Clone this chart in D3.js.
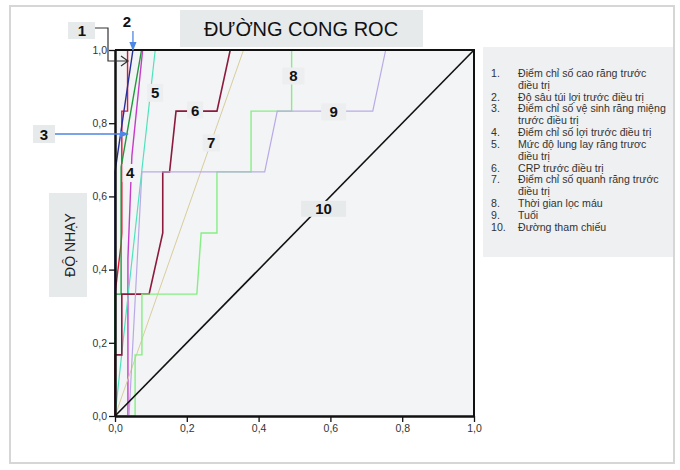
<!DOCTYPE html>
<html>
<head>
<meta charset="utf-8">
<script src="https://cdn.jsdelivr.net/npm/d3@7"></script>
<style>
  html, body { margin: 0; padding: 0; background: #ffffff; }
  svg { display: block; font-family: "Liberation Sans", Arial, sans-serif; }
</style>
</head>
<body>
<svg id="chart" width="680" height="470"></svg>
<script>
// ROC curves: each series is a list of [1 - specificity, sensitivity] points
const curve1 = [[0,0],[0,0.333],[0.017,0.47],[0.019,0.5],[0.019,0.833],[0.035,0.833],[0.035,1],[1,1]];
const curve2 = [[0,0],[0,0.667],[0.05,1],[1,1]];
const curve3 = [[0,0],[0,0.333],[0.017,0.333],[0.017,0.68],[0.074,1],[1,1]];
const curve4 = [[0,0],[0.036,0],[0.036,0.43],[0.047,0.71],[0.077,1],[1,1]];
const curve5 = [[0,0],[0.038,0.344],[0.078,0.7],[0.112,1],[1,1]];
const curve6 = [[0,0],[0,0.167],[0.019,0.167],[0.019,0.333],[0.095,0.333],[0.133,0.5],[0.133,0.667],[0.152,0.667],[0.17,0.833],[0.284,0.833],[0.321,1],[1,1]];
const curve7 = [[0,0],[0.358,1],[1,1]];
const curve8 = [[0,0],[0.056,0],[0.056,0.167],[0.075,0.167],[0.075,0.333],[0.228,0.333],[0.24,0.5],[0.284,0.5],[0.284,0.667],[0.379,0.667],[0.379,0.833],[0.492,0.833],[0.492,1],[1,1]];
const curve9 = [[0,0],[0.039,0],[0.075,0.667],[0.417,0.667],[0.452,0.833],[0.718,0.833],[0.754,1],[1,1]];
const curve10 = [[0,0],[1,1]];

const seriesList = [curve1, curve2, curve3, curve4, curve5, curve6, curve7, curve8, curve9, curve10];
const seriesColors = ["#e3143c", "#27309a", "#1f9a3c", "#c63cc8", "#4ee3bc", "#8c1a3c", "#d9cd9c", "#86ee84", "#b9a9e6", "#111111"];
const seriesWidths = [1.4, 1.4, 1.4, 1.4, 1.2, 1.6, 1.0, 1.4, 1.2, 1.6];

// Legend entries, already wrapped to fit the box
const legendItems = [
  ["Điểm chỉ số cao răng trước", "điều trị"],
  ["Độ sâu túi lợi trước điều trị"],
  ["Điểm chỉ số vệ sinh răng miệng", "trước điều trị"],
  ["Điểm chỉ số lợi trước điều trị"],
  ["Mức độ lung lay răng trươc", "điều trị"],
  ["CRP trước điều trị"],
  ["Điểm chỉ số quanh răng trước", "điều trị"],
  ["Thời gian lọc máu"],
  ["Tuổi"],
  ["Đường tham chiếu"]
];

const tickValues = [0, 0.2, 0.4, 0.6, 0.8, 1.0];
const titleText = "ĐƯỜNG CONG ROC";
const yLabelText = "ĐỘ NHẠY";

const svg = d3.select("#chart");

// page frame
svg.append("rect").attr("x", 10).attr("y", 6).attr("width", 664).attr("height", 457)
  .attr("fill", "#ffffff").attr("stroke", "#d6d6d6").attr("stroke-width", 2);

const plot = { left: 115, right: 474, top: 50, bottom: 416 };
const x = d3.scaleLinear().domain([0, 1]).range([plot.left, plot.right]);
const y = d3.scaleLinear().domain([0, 1]).range([plot.bottom, plot.top]);

// plot background
svg.append("rect").attr("x", plot.left).attr("y", plot.top)
  .attr("width", plot.right - plot.left).attr("height", plot.bottom - plot.top)
  .attr("fill", "#f3f4f5");

// title
svg.append("rect").attr("x", 180).attr("y", 10).attr("width", 243).attr("height", 37).attr("fill", "#e7eaeb");
svg.append("text").attr("x", 301).attr("y", 36).attr("text-anchor", "middle")
  .attr("font-size", 20).attr("fill", "#111").text(titleText);

// y label
svg.append("rect").attr("x", 49).attr("y", 193).attr("width", 38).attr("height", 104).attr("fill", "#e7eaeb");
svg.append("text").attr("transform", "translate(75,245) rotate(-90)").attr("text-anchor", "middle")
  .attr("font-size", 14).attr("fill", "#222").text(yLabelText);

// curves
const line = d3.line().x(d => x(d[0])).y(d => y(d[1]));
const curveG = svg.append("g");
seriesList.forEach((s, i) => {
  curveG.append("path").attr("d", line(s)).attr("fill", "none")
    .attr("stroke", seriesColors[i]).attr("stroke-width", seriesWidths[i])
    .attr("stroke-linejoin", "miter");
});

// top and right frame
svg.append("path")
  .attr("d", `M${plot.left},${plot.top}H${plot.right}V${plot.bottom}`)
  .attr("fill", "none").attr("stroke", "#111").attr("stroke-width", 2);

// axes
const fmt = d => d3.format(".1f")(d).replace(".", ",");
const yAxis = svg.append("g").attr("transform", `translate(${plot.left},0)`)
  .call(d3.axisLeft(y).tickValues(tickValues).tickFormat(fmt).tickSize(6).tickSizeOuter(0).tickPadding(2));
const xAxis = svg.append("g").attr("transform", `translate(0,${plot.bottom})`)
  .call(d3.axisBottom(x).tickValues(tickValues).tickFormat(fmt).tickSize(6).tickSizeOuter(0).tickPadding(3));
[yAxis, xAxis].forEach(a => {
  a.select(".domain").attr("stroke", "#111").attr("stroke-width", 2.5);
  a.selectAll(".tick line").attr("stroke", "#111").attr("stroke-width", 1.3);
  a.selectAll(".tick text").attr("font-size", 10.5).attr("fill", "#333")
    .attr("font-family", "'Liberation Sans', Arial, sans-serif");
});

// curve number labels inside the plot
const boxLabels = [
  { t: "4", d: [0.042, 0.664], w: 15, h: 18, bg: "#f3f4f5" },
  { t: "5", d: [0.112, 0.883], w: 16, h: 18, bg: "#eceeef" },
  { t: "6", d: [0.223, 0.836], w: 16, h: 17, bg: "#eceeef" },
  { t: "7", d: [0.268, 0.746], w: 17, h: 17, bg: "#eceeef" },
  { t: "8", d: [0.497, 0.929], w: 22, h: 17, bg: "#eceeef" },
  { t: "9", d: [0.609, 0.831], w: 25, h: 17, bg: "#eceeef" },
  { t: "10", d: [0.581, 0.566], w: 45, h: 16, bg: "#e7eaeb" }
];
boxLabels.forEach(b => {
  const cx = x(b.d[0]), cy = y(b.d[1]);
  svg.append("rect").attr("x", cx - b.w / 2).attr("y", cy - b.h / 2)
    .attr("width", b.w).attr("height", b.h).attr("fill", b.bg);
  svg.append("text").attr("x", cx).attr("y", cy + 5.5).attr("text-anchor", "middle")
    .attr("font-size", 15).attr("font-weight", "bold").attr("fill", "#111").text(b.t);
});

// callouts for the crowded curves near the axis
const blue = "#4d86e6";
svg.append("defs").html(
  `<marker id="tri" viewBox="0 0 10 10" refX="9" refY="5" markerWidth="7" markerHeight="7" orient="auto">
     <path d="M0,1 L10,5 L0,9 z" fill="${blue}"/></marker>`);

// 1
svg.append("rect").attr("x", 68).attr("y", 22).attr("width", 27).attr("height", 17).attr("fill", "#e7eaeb");
svg.append("text").attr("x", 82).attr("y", 36).attr("text-anchor", "middle")
  .attr("font-size", 15).attr("font-weight", "bold").attr("fill", "#111").text("1");
svg.append("path").attr("d", "M95,28H108V61H128M121,56L128,61L121,66")
  .attr("fill", "none").attr("stroke", "#333").attr("stroke-width", 1.2);

// 2
svg.append("text").attr("x", 127).attr("y", 27).attr("text-anchor", "middle")
  .attr("font-size", 15).attr("font-weight", "bold").attr("fill", "#111").text("2");
svg.append("line").attr("x1", x(0.05)).attr("y1", 31).attr("x2", x(0.05)).attr("y2", y(1))
  .attr("stroke", blue).attr("stroke-width", 1.3).attr("marker-end", "url(#tri)");

// 3
svg.append("rect").attr("x", 33).attr("y", 125).attr("width", 22).attr("height", 18).attr("fill", "#e7eaeb");
svg.append("text").attr("x", 44).attr("y", 139.5).attr("text-anchor", "middle")
  .attr("font-size", 15).attr("font-weight", "bold").attr("fill", "#111").text("3");
svg.append("line").attr("x1", 55).attr("y1", 134).attr("x2", 128).attr("y2", 134)
  .attr("stroke", blue).attr("stroke-width", 1.3).attr("marker-end", "url(#tri)");

// legend
svg.append("rect").attr("x", 483).attr("y", 47).attr("width", 190).attr("height", 210).attr("fill", "#eef0f1");
const lg = svg.append("g").attr("font-size", 10.6).attr("fill", "#333");
let row = 0;
const rowStep = 11.85, firstBase = 76.8;
legendItems.forEach((lines, i) => {
  lg.append("text").attr("x", 491).attr("y", firstBase + row * rowStep).text((i + 1) + ".");
  lines.forEach(t => {
    lg.append("text").attr("x", 518).attr("y", firstBase + row * rowStep).text(t);
    row++;
  });
});
</script>
</body>
</html>
